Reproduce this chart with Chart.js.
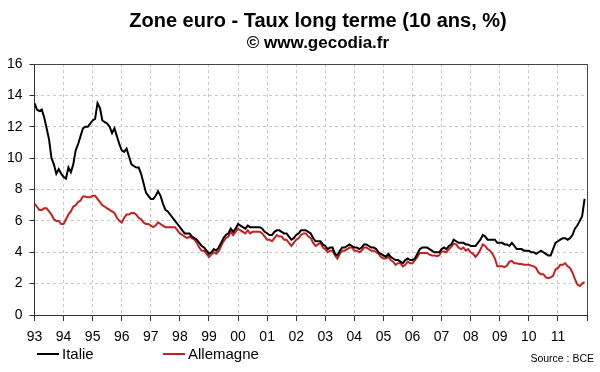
<!DOCTYPE html>
<html>
<head>
<meta charset="utf-8">
<script src="https://cdn.jsdelivr.net/npm/chart.js@4.4.0/dist/chart.umd.min.js"></script>
<style>
  body { margin: 0; background: #fff; font-family: "Liberation Sans", Arial, sans-serif; }
  #wrap { position: relative; width: 600px; height: 372px; overflow: hidden; }
  #chart { position: absolute; left: 0; top: 0; }
  .title { position: absolute; left: 38px; width: 560px; text-align: center; font-weight: bold; color: #000; white-space: nowrap; }
  .leg { position: absolute; top: 345px; font-size: 15px; color: #000; white-space: nowrap; }
  .leg i { display: inline-block; width: 22px; height: 2px; vertical-align: middle; margin-right: 3px; position: relative; top: -1px; }
  #source { position: absolute; right: 6px; top: 352px; font-size: 10.5px; color: #000; }
</style>
</head>
<body>
<div id="wrap">
  <canvas id="chart" width="600" height="372"></canvas>
  <div class="title" style="top:9px;font-size:20px;">Zone euro - Taux long terme (10 ans, %)</div>
  <div class="title" style="top:33px;font-size:17px;">© www.gecodia.fr</div>
  <div class="leg" style="left:37px;"><i style="background:#000"></i>Italie</div>
  <div class="leg" style="left:163px;"><i style="background:#c8201e"></i>Allemagne</div>
  <div id="source">Source : BCE</div>
</div>
<script>
// monthly values, Jan 1993 -> Dec 2011
const startYear = 1993;
const yearTicks = ['93', '94', '95', '96', '97', '98', '99', '00', '01', '02', '03', '04', '05', '06', '07', '08', '09', '10', '11'];

const italie = [
  13.5, 13.1, 13.0, 13.1, 12.6, 11.9, 11.2, 10.0, 9.6, 9.0, 9.3, 9.0,
  8.8, 8.7, 9.4, 9.1, 9.6, 10.5, 10.9, 11.4, 11.9, 12.0, 12.0, 12.2,
  12.4, 12.5, 13.5, 13.2, 12.4, 12.3, 12.2, 12.0, 11.6, 11.9, 11.4, 10.9,
  10.5, 10.4, 10.6, 10.1, 9.6, 9.5, 9.4, 9.4, 9.0, 8.4, 7.8, 7.6,
  7.4, 7.4, 7.6, 7.9, 7.6, 7.1, 6.7, 6.6, 6.4, 6.2, 6.0, 5.8,
  5.6, 5.4, 5.2, 5.2, 5.2, 5.0, 4.9, 4.8, 4.6, 4.4, 4.3, 4.1,
  3.9, 4.0, 4.2, 4.1, 4.3, 4.6, 4.9, 5.1, 5.2, 5.5, 5.3, 5.5,
  5.8, 5.7, 5.6, 5.5, 5.7, 5.6, 5.6, 5.6, 5.6, 5.6, 5.5, 5.3,
  5.2, 5.1, 5.1, 5.3, 5.4, 5.4, 5.3, 5.2, 5.2, 5.0, 4.8, 4.9,
  5.1, 5.2, 5.4, 5.4, 5.4, 5.3, 5.2, 4.9, 4.7, 4.7, 4.7, 4.5,
  4.4, 4.2, 4.3, 4.3, 3.9, 3.8, 4.1, 4.3, 4.3, 4.4, 4.5, 4.4,
  4.3, 4.3, 4.2, 4.3, 4.5, 4.5, 4.4, 4.3, 4.3, 4.2, 4.0, 3.9,
  3.8, 3.7, 3.9, 3.7, 3.6, 3.5, 3.5, 3.4, 3.3, 3.5, 3.6, 3.5,
  3.5, 3.6, 3.9, 4.2, 4.3, 4.3, 4.3, 4.2, 4.1, 4.0, 4.0, 4.0,
  4.2, 4.3, 4.2, 4.4, 4.5, 4.8, 4.7, 4.6, 4.6, 4.6, 4.5, 4.5,
  4.4, 4.4, 4.4, 4.6, 4.8, 5.1, 5.0, 4.8, 4.8, 4.8, 4.8, 4.6,
  4.6, 4.6, 4.5, 4.5, 4.4, 4.6, 4.4, 4.2, 4.2, 4.2, 4.1, 4.1,
  4.1, 4.0, 4.0, 3.9, 4.0, 4.1, 4.0, 3.9, 3.8, 3.8, 4.2, 4.6,
  4.7, 4.8, 4.9, 4.9, 4.8, 4.9, 5.1, 5.5, 5.7, 6.0, 6.3, 7.4
];

const allemagne = [
  7.1, 6.9, 6.7, 6.7, 6.8, 6.8, 6.6, 6.4, 6.1, 6.0, 6.0, 5.8,
  5.8, 6.1, 6.4, 6.6, 6.9, 7.0, 7.2, 7.3, 7.55, 7.55, 7.5, 7.5,
  7.6, 7.6, 7.4, 7.2, 7.0, 6.9, 6.8, 6.7, 6.6, 6.5, 6.2, 6.0,
  5.9, 6.2, 6.4, 6.4, 6.5, 6.5, 6.4, 6.2, 6.1, 5.9, 5.8, 5.8,
  5.7, 5.6, 5.7, 5.9, 5.8, 5.7, 5.6, 5.6, 5.6, 5.6, 5.6, 5.4,
  5.2, 5.1, 5.0, 4.9, 5.0, 4.9, 4.8, 4.6, 4.3, 4.1, 4.1, 3.9,
  3.7, 3.85, 4.0, 3.9, 4.05, 4.4, 4.7, 4.9, 5.0, 5.3, 5.1, 5.3,
  5.5, 5.4, 5.3, 5.2, 5.4, 5.2, 5.3, 5.3, 5.3, 5.3, 5.2, 5.0,
  4.8, 4.8, 4.7, 4.9, 5.1, 5.0, 5.0, 4.8, 4.8, 4.6, 4.4, 4.6,
  4.8, 4.9, 5.1, 5.2, 5.2, 5.0, 4.9, 4.6, 4.4, 4.5, 4.6, 4.3,
  4.2, 4.0, 4.1, 4.1, 3.8, 3.6, 3.9, 4.1, 4.1, 4.2, 4.3, 4.3,
  4.1, 4.1, 4.0, 4.1, 4.3, 4.3, 4.2, 4.1, 4.1, 4.0, 3.9, 3.7,
  3.6, 3.6, 3.7, 3.5, 3.4, 3.2, 3.3, 3.3, 3.1, 3.2, 3.4, 3.3,
  3.3, 3.5, 3.7, 3.95, 3.95, 3.95, 3.95, 3.85, 3.8, 3.8, 3.75, 3.8,
  4.05, 4.05, 4.0, 4.2, 4.35, 4.55, 4.5, 4.3, 4.2, 4.3, 4.1, 4.2,
  4.0, 3.9, 3.7, 3.9, 4.15, 4.5, 4.4, 4.2, 4.1, 3.9, 3.6, 3.1,
  3.1, 3.1, 3.05, 3.15, 3.4, 3.45, 3.3, 3.3, 3.25, 3.25, 3.2, 3.2,
  3.2, 3.15, 3.1, 3.0, 2.7, 2.6, 2.6, 2.4, 2.35, 2.4, 2.5, 2.9,
  3.0, 3.2, 3.2, 3.3, 3.1, 3.0, 2.7, 2.3, 1.95, 1.85, 2.0, 2.1
];

const toPoints = arr => arr.map((v, i) => ({ x: startYear + i / 12, y: v }));

const boxPlugin = {
  id: 'box',
  beforeDatasetsDraw(chart) {
    const { ctx, chartArea: a } = chart;
    ctx.save();
    ctx.strokeStyle = '#444';
    ctx.lineWidth = 1;
    ctx.beginPath();
    ctx.moveTo(a.left, a.top + 0.5);
    ctx.lineTo(a.right + 0.5, a.top + 0.5);
    ctx.lineTo(a.right + 0.5, a.bottom);
    ctx.stroke();
    ctx.restore();
  }
};

const font = { family: '"Liberation Sans", Arial, sans-serif', size: 14 };

new Chart(document.getElementById('chart'), {
  type: 'line',
  data: {
    datasets: [
      { label: 'Italie', data: toPoints(italie), borderColor: '#000', borderWidth: 2, pointRadius: 0, tension: 0 },
      { label: 'Allemagne', data: toPoints(allemagne), borderColor: '#c8201e', borderWidth: 2, pointRadius: 0, tension: 0 }
    ]
  },
  options: {
    responsive: false,
    animation: false,
    layout: { padding: { top: 64, right: 13, bottom: 0, left: 0 } },
    plugins: { legend: { display: false }, title: { display: false }, tooltip: { enabled: false } },
    scales: {
      x: {
        type: 'linear',
        min: 1993,
        max: 2012,
        afterFit: s => { s.height = 57; },
        ticks: {
          stepSize: 1,
          autoSkip: false,
          maxRotation: 0,
          padding: 8,
          color: '#000',
          font,
          callback: (v, i) => yearTicks[i] || ''
        },
        grid: { color: '#c8c8c8', tickColor: '#333', tickLength: 6, tickBorderDash: [] },
        border: { color: '#333', width: 1, dash: [3, 3] }
      },
      y: {
        min: 0,
        max: 16,
        afterFit: s => { s.width = 34.5; },
        ticks: { stepSize: 2, padding: 7, color: '#000', font },
        grid: { color: '#c8c8c8', tickColor: '#333', tickLength: 5, tickBorderDash: [] },
        border: { color: '#333', width: 1, dash: [3, 3] }
      }
    }
  },
  plugins: [boxPlugin]
});
</script>
</body>
</html>
